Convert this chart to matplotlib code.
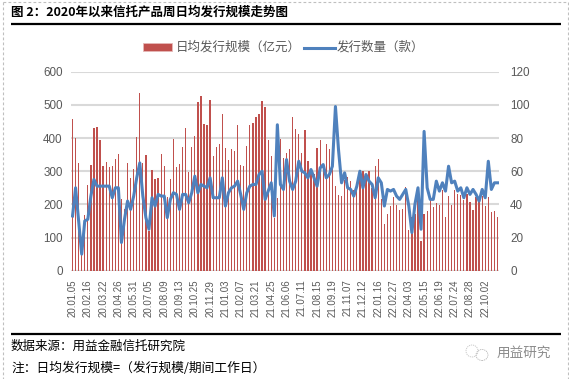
import numpy as np
import matplotlib
matplotlib.use("Agg")
import matplotlib.pyplot as plt
from matplotlib.lines import Line2D
from matplotlib.patches import Rectangle, Ellipse

CJK = ['Noto Sans CJK SC', 'DejaVu Sans']
plt.rcParams['font.family'] = CJK

title = "图 2：2020年以来信托产品周日均发行规模走势图"
source = "数据来源：用益金融信托研究院"
note = "注：日均发行规模=（发行规模/期间工作日）"
watermark = "用益研究"
bar_name = "日均发行规模（亿元）"
line_name = "发行数量（款）"

tick_labels = ["20.01.05","20.02.16","20.03.22","20.04.26","20.05.31","20.07.05","20.08.09",
               "20.09.13","20.10.25","20.11.29","21.01.03","21.02.07","21.03.21","21.04.25",
               "21.06.06","21.07.11","21.08.15","21.09.19","21.11.07","21.12.12","22.01.16",
               "22.02.27","22.04.03","22.05.15","22.06.19","22.07.24","22.08.28","22.10.02"]

scale = [457,400,325,60,167,257,319,430,434,395,317,329,312,317,338,352,215,186,326,281,
         308,404,536,326,350,120,305,277,281,353,317,222,275,398,314,323,374,431,299,
         374,407,509,527,443,440,515,347,374,383,473,371,335,368,362,440,320,317,377,440,
         446,464,473,512,494,395,347,160,220,398,341,356,368,464,428,413,356,425,332,305,
         292,371,395,317,383,368,317,254,227,224,272,282,269,242,254,302,302,290,302,250,
         317,338,
         217,140,172,194,222,197,182,185,251,122,162,170,240,89,170,179,212,192,203,197,
         242,162,224,197,244,230,227,212,232,206,182,222,207,225,194,221,176,179,161]

count = [33,50,30,10,30,31,45,55,51,51,51,51,51,44,50,50,17,31,42,37,
         45,56,65,45,32,25,44,39,46,45,45,32,43,47,46,37,46,46,41,
         47,57,47,52,51,50,56,44,44,44,56,39,47,50,51,54,46,37,47,51,
         52,52,58,60,43,48,53,33,88,52,49,67,54,49,54,66,60,59,56,61,
         56,51,62,64,56,58,63,99,73,53,59,50,49,45,51,60,50,58,54,52,
         44,56,
         53,39,49,48,49,45,43,46,49,39,23,40,50,25,84,50,43,43,54,48,
         53,48,63,53,54,48,50,44,50,46,49,46,42,49,44,66,49,53,53]

left_ticks = [0,100,200,300,400,500,600]
right_ticks = [0,20,40,60,80,100,120]

W, H = 569, 379
fig = plt.figure(figsize=(W/100, H/100), dpi=100, facecolor='white')

def fx(p): return p / W
def fy(p): return 1 - p / H

ax = fig.add_axes([fx(71), fy(270.7), (499-71)/W, (270.7-71.7)/H])
x = np.arange(len(scale))
ax.bar(x, scale, width=0.42, color='#C0504D', zorder=2)
ax.set_xlim(-0.5, len(scale)-0.5)
ax.set_ylim(0, 600)
ax.set_yticks(left_ticks)
ax.grid(axis='y', color='#D9D9D9', lw=1.5, zorder=1)
ax.set_axisbelow(True)
for s in ax.spines.values():
    s.set_visible(False)
ax.axhline(0, color='#D9D9D9', lw=1.5, zorder=1)
ax.set_xticks(x[::5][:len(tick_labels)])
ax.set_xticklabels(tick_labels, rotation=90, fontsize=7, family='Liberation Sans', color='#595959')
ax.tick_params(axis='x', length=0, pad=6.5)
ax.tick_params(axis='y', length=0, pad=6, labelsize=8.4, labelcolor='#595959')
for t in ax.get_yticklabels():
    t.set_family('Liberation Sans')

ax2 = ax.twinx()
ax2.plot(x, count, color='#4F81BD', lw=2.2, solid_joinstyle='round', zorder=3)
ax2.set_ylim(0, 120)
ax2.set_yticks(right_ticks)
ax2.tick_params(axis='y', length=0, pad=8, labelsize=8.4, labelcolor='#595959')
for t in ax2.get_yticklabels():
    t.set_family('Liberation Sans')
for s in ax2.spines.values():
    s.set_visible(False)

# legend
fig.add_artist(Rectangle((fx(143), fy(51)), 29/W, 8/H, transform=fig.transFigure,
                         fc='#C0504D', ec='#E5B8B7', lw=0.6))
fig.text(fx(176), fy(47), bar_name, fontsize=9.0, color='#595959', va='center', ha='left')
fig.add_artist(Line2D([fx(304), fx(335)], [fy(47.5), fy(47.5)], color='#4F81BD', lw=2.2,
                      transform=fig.transFigure))
fig.text(fx(337), fy(47), line_name, fontsize=9.0, color='#595959', va='center', ha='left')

# frame
for xs, ys in [((3, 3), (2, 379)), ((568, 568), (2, 379)), ((3, 568), (2, 2))]:
    fig.add_artist(Line2D([fx(v) for v in xs], [fy(v) for v in ys], color='#BFBFBF', lw=0.8,
                          ls=(0, (2.5, 2)), transform=fig.transFigure))
for yy, lw in [(24, 1.6), (334, 1.6)]:
    fig.add_artist(Line2D([fx(11), fx(561)], [fy(yy), fy(yy)], color='black', lw=lw,
                          transform=fig.transFigure, solid_capstyle='butt'))

fig.text(fx(11), fy(12), title, fontsize=9.0, fontweight='bold', color='black', va='center', ha='left')
fig.text(fx(11), fy(346), source, fontsize=9, color='black', va='center', ha='left')
fig.text(fx(11), fy(368), note, fontsize=9.2, color='black', va='center', ha='left')

# watermark
fig.text(fx(497), fy(353), watermark, fontsize=9.8, color='#8C8C8C', va='center', ha='left')
fig.add_artist(Ellipse((fx(482), fy(355)), 12/W, 11/H, transform=fig.transFigure, fc='none',
                       ec='#B5B5B5', lw=0.6, ls=(0, (1.5, 1))))
fig.add_artist(Ellipse((fx(472), fy(351)), 12/W, 12/H, transform=fig.transFigure, fc='none',
                       ec='#C5C5C5', lw=0.6, ls=(0, (1.5, 1))))

fig.savefig('out.png', dpi=100, facecolor='white')
